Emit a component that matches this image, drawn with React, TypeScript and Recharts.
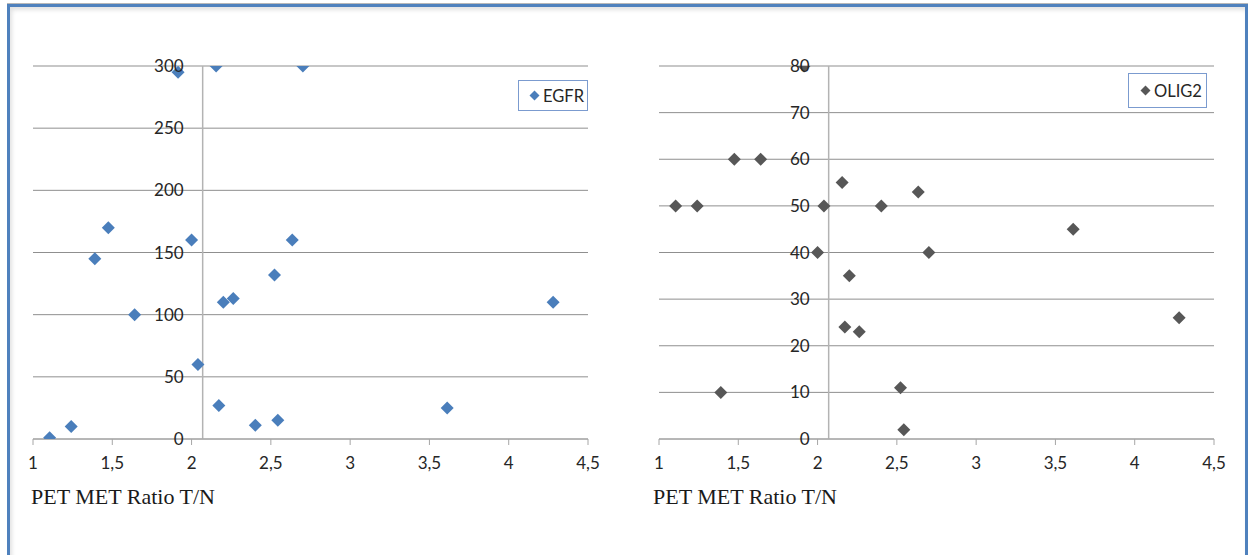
import React from 'react';
import {
  ScatterChart,
  Scatter,
  XAxis,
  YAxis,
  CartesianGrid,
  ReferenceLine,
  Legend,
} from 'recharts';

// PET MET Ratio T/N (shared x values of both panels)
const petMetRatio = [
  1.105, 1.241, 1.39, 1.475, 1.641, 1.915, 2.0, 2.04, 2.155, 2.172, 2.2, 2.263,
  2.402, 2.523, 2.544, 2.635, 2.702, 3.612, 4.28,
];
const egfrValues = [
  1, 10, 145, 170, 100, 295, 160, 60, 300, 27, 110, 113, 11, 132, 15, 160, 300, 25, 110,
];
const olig2Values = [
  50, 50, 10, 60, 60, 80, 40, 50, 55, 24, 35, 23, 50, 11, 2, 53, 40, 45, 26,
];
const xTicks = [1, 1.5, 2, 2.5, 3, 3.5, 4, 4.5];
const egfrTicks = [0, 50, 100, 150, 200, 250, 300];
const olig2Ticks = [0, 10, 20, 30, 40, 50, 60, 70, 80];
const X_MIN = 1;
const X_MAX = 4.5;
const AXIS_CROSS = 2.07;
const xTitle = 'PET MET Ratio T/N';

const egfrData = petMetRatio.map((x, i) => ({ x, y: egfrValues[i] }));
const olig2Data = petMetRatio.map((x, i) => ({ x, y: olig2Values[i] }));

const TICK_FONT = 'Lato, "Open Sans", sans-serif';
const fmt = (v: number) => String(v).replace('.', ',');

const CHART_W = 620;
const CHART_H = 555;
const Y_AXIS_W = 20;

type PanelProps = {
  offsetLeft: number;
  marginLeft: number;
  marginRight: number;
  data: { x: number; y: number }[];
  yTicks: number[];
  color: string;
  name: string;
  legend: { left: number; top: number; width: number; height: number; pad: number };
  titleShift: number;
};

const Diamond = (color: string, r: number) => (props: any) => {
  const { cx, cy } = props;
  if (cx == null || cy == null) return null;
  return (
    <polygon
      points={`${cx},${cy - r} ${cx + r},${cy} ${cx},${cy + r} ${cx - r},${cy}`}
      fill={color}
    />
  );
};

function Panel(p: PanelProps) {
  const plotW = CHART_W - p.marginLeft - p.marginRight;
  const crossOffset = ((AXIS_CROSS - X_MIN) / (X_MAX - X_MIN)) * plotW;

  const YTick = (props: any) => {
    const { y, payload } = props;
    const x = p.marginLeft + crossOffset - 19;
    return (
      <text
        x={x}
        y={y}
        dy="0.36em"
        textAnchor="end"
        fill="#262626"
        fontSize={17}
        fontFamily={TICK_FONT}
      >
        {payload.value}
      </text>
    );
  };

  const XTick = (props: any) => {
    const { x, y, payload } = props;
    return (
      <text
        x={x}
        y={y}
        dy={24}
        textAnchor="middle"
        fill="#262626"
        fontSize={17}
        fontFamily={TICK_FONT}
      >
        {fmt(payload.value)}
      </text>
    );
  };

  const TitleLabel = (props: any) => {
    const vb = props.viewBox || {};
    return (
      <text
        x={vb.x + p.titleShift}
        y={vb.y + 65}
        fill="#1a1a1a"
        fontSize={22}
        fontFamily='"Liberation Serif", "Times New Roman", serif'
      >
        {xTitle}
      </text>
    );
  };

  const legendContent = () => (
    <div
      style={{
        boxSizing: 'border-box',
        width: p.legend.width,
        height: p.legend.height,
        border: '1px solid #7b9bcf',
        background: '#fff',
        display: 'flex',
        alignItems: 'center',
        paddingLeft: p.legend.pad,
      }}
    >
      <svg width={11} height={11} style={{ display: 'block' }}>
        <polygon points="5.5,0.5 10.5,5.5 5.5,10.5 0.5,5.5" fill={p.color} />
      </svg>
      <span
        style={{
          marginLeft: 3,
          fontFamily: TICK_FONT,
          fontSize: 16.5,
          color: '#262626',
          lineHeight: '16px',
        }}
      >
        {p.name}
      </span>
    </div>
  );

  return (
    <div style={{ position: 'absolute', left: p.offsetLeft, top: 0 }}>
      <ScatterChart
        width={CHART_W}
        height={CHART_H}
        margin={{ top: 66, right: p.marginRight, bottom: 86, left: p.marginLeft - Y_AXIS_W }}
      >
        <CartesianGrid horizontal vertical={false} stroke="#8f8f8f" strokeWidth={1} />
        <XAxis
          type="number"
          dataKey="x"
          domain={[X_MIN, X_MAX]}
          ticks={xTicks}
          allowDataOverflow
          height={30}
          axisLine={{ stroke: '#a6a6a6' }}
          tickLine={{ stroke: '#a6a6a6' }}
          tickSize={6}
          tickMargin={0}
          tick={XTick}
          interval={0}
          label={TitleLabel}
        />
        <YAxis
          type="number"
          dataKey="y"
          domain={[p.yTicks[0], p.yTicks[p.yTicks.length - 1]]}
          ticks={p.yTicks}
          allowDataOverflow
          width={Y_AXIS_W}
          axisLine={false}
          tickLine={false}
          tick={YTick}
          interval={0}
        />
        <ReferenceLine x={AXIS_CROSS} stroke="#b3b3b3" strokeWidth={1.5} />
        <Legend
          layout="horizontal"
          verticalAlign="middle"
          align="center"
          content={legendContent}
          wrapperStyle={{
            position: 'absolute',
            left: p.legend.left,
            top: p.legend.top,
            width: p.legend.width,
            height: p.legend.height,
          }}
        />
        <Scatter
          name={p.name}
          data={p.data}
          fill={p.color}
          shape={Diamond(p.color, 6.5)}
          isAnimationActive={false}
        />
      </ScatterChart>
    </div>
  );
}

export default function App() {
  return (
    <div
      style={{
        position: 'absolute',
        left: 0,
        top: 0,
        width: 1255,
        height: 555,
        background: '#fff',
        overflow: 'hidden',
      }}
    >
      <Panel
        offsetLeft={0}
        marginLeft={33}
        marginRight={32}
        data={egfrData}
        yTicks={egfrTicks}
        color="#4a7ebb"
        name="EGFR"
        legend={{ left: 518, top: 80, width: 70, height: 31, pad: 10 }}
        titleShift={-2}
      />
      <Panel
        offsetLeft={620}
        marginLeft={39}
        marginRight={26}
        data={olig2Data}
        yTicks={olig2Ticks}
        color="#575757"
        name="OLIG2"
        legend={{ left: 508, top: 73, width: 79, height: 35, pad: 11 }}
        titleShift={-6}
      />
      <div
        style={{
          position: 'absolute',
          left: 7,
          top: 4,
          width: 1241,
          height: 620,
          boxSizing: 'border-box',
          borderTop: '3px solid #4f81bd',
          borderLeft: '3px solid #4f81bd',
          borderRight: '3px solid #4f81bd',
          boxShadow: 'inset 2px 3px 4px rgba(0,0,0,0.12), 0 -1px 0 #b8b8b8',
          pointerEvents: 'none',
        }}
      />
    </div>
  );
}
